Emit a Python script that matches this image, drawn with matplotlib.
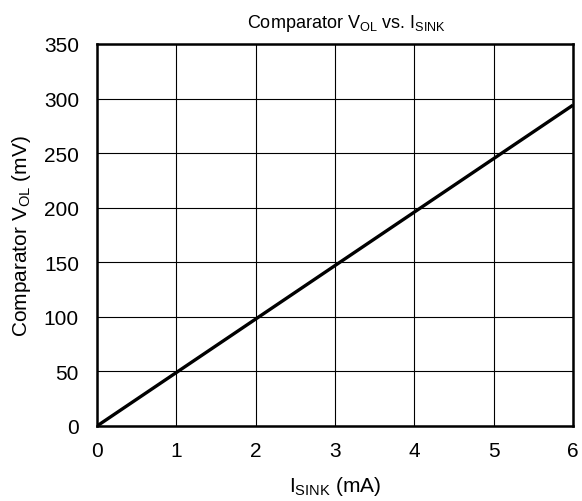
import matplotlib
matplotlib.use("Agg")
import matplotlib.pyplot as plt

plt.rcParams['font.family'] = ['Liberation Sans', 'DejaVu Sans']
plt.rcParams['mathtext.fontset'] = 'custom'
plt.rcParams['mathtext.rm'] = 'Liberation Sans'
plt.rcParams['mathtext.it'] = 'Liberation Sans'

# data
i_sink = [0, 1, 2, 3, 4, 5, 6]
v_ol = [0, 49, 98, 147, 196, 245, 294]
x_ticks = [0, 1, 2, 3, 4, 5, 6]
y_ticks = [0, 50, 100, 150, 200, 250, 300, 350]

fig = plt.figure(figsize=(5.82, 5.02), dpi=100)
ax = fig.add_axes([97 / 582, 1 - 427 / 502, 476 / 582, 382 / 502])

ax.plot(i_sink, v_ol, color='black', linewidth=2.4, solid_capstyle='butt')
ax.set_xlim(0, 6)
ax.set_ylim(0, 350)
ax.set_xticks(x_ticks)
ax.set_yticks(y_ticks)
ax.tick_params(length=0, labelsize=15, colors='black')
ax.tick_params(axis='x', pad=11)
ax.tick_params(axis='y', pad=13)
ax.grid(True, color='black', linewidth=0.8)
for s in ax.spines.values():
    s.set_linewidth(1.8)

ax.set_title(r'Comparator V$_{\mathrm{OL}}$ vs. I$_{\mathrm{SINK}}$', fontsize=13, pad=12, x=0.525)
ax.set_xlabel(r'I$_{\mathrm{SINK}}$ (mA)', fontsize=15, labelpad=10)
ax.set_ylabel(r'Comparator V$_{\mathrm{OL}}$ (mV)', fontsize=15, labelpad=8)

fig.savefig('out.png', dpi=100)
